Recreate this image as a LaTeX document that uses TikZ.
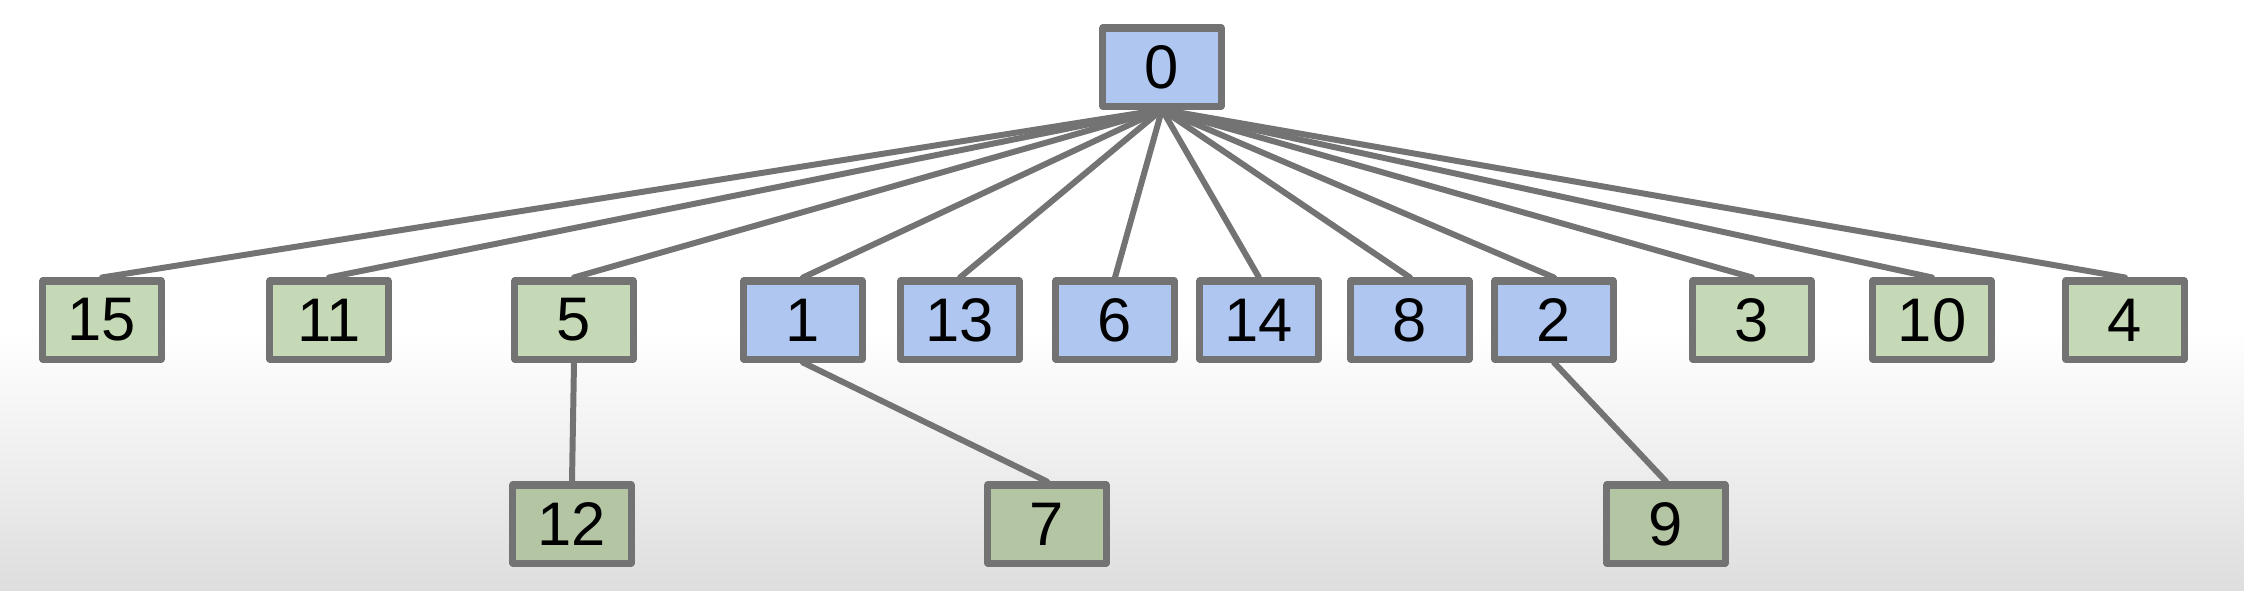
\documentclass[tikz,border=0pt]{standalone}
\usepackage{fontspec}
\setmainfont{Liberation Sans}
\definecolor{bluebox}{RGB}{175,199,240}
\definecolor{greenbox}{RGB}{197,217,183}
\definecolor{greendark}{RGB}{180,197,164}
\definecolor{linegray}{RGB}{115,115,115}
\begin{document}
\begin{tikzpicture}[x=0.01cm, y=-0.01cm, line join=round, line cap=round,
	font=\fontsize{17.5}{20}\selectfont,
	box/.style={draw=linegray, line width=2pt, minimum width=1.18cm, minimum height=0.78cm, inner sep=0pt},
	bluenode/.style={box, fill=bluebox},
	greennode/.style={box, fill=greenbox},
	leafnode/.style={box, fill=greendark},
	edge/.style={draw=linegray, line width=1.7pt}]
	\useasboundingbox (0,0) rectangle (2244,590);
	\fill[white] (0,0) rectangle (2244,590);
	\shade[top color=white, bottom color={rgb,255:red,222;green,222;blue,222}] (0,330) rectangle (2244,590);
	\def\ytop{67} \def\ymid{320} \def\ybot{524} % Hàng
	\node[bluenode] (n0) at (1162,\ytop) {0};
	\foreach \n/\x/\s in {15/102/greennode, 11/329/greennode, 5/574/greennode, 1/803/bluenode, 13/960/bluenode, 6/1115/bluenode, 14/1259/bluenode, 8/1410/bluenode, 2/1554/bluenode, 3/1752/greennode, 10/1932/greennode, 4/2125/greennode}
		\node[\s] (n\n) at (\x,\ymid) {\n};
	\node[leafnode] (n12) at (572,\ybot) {12};
	\node[leafnode] (n7) at (1047,\ybot) {7};
	\node[leafnode] (n9) at (1666,\ybot) {9};
	\foreach \n in {15,11,5,1,13,6,14,8,2,3,10,4}
		\draw[edge] (n0.south) -- (n\n.north);
	\draw[edge] (n5.south) -- (n12.north);
	\draw[edge] (n1.south) -- (n7.north);
	\draw[edge] (n2.south) -- (n9.north);
\end{tikzpicture}
\end{document}
